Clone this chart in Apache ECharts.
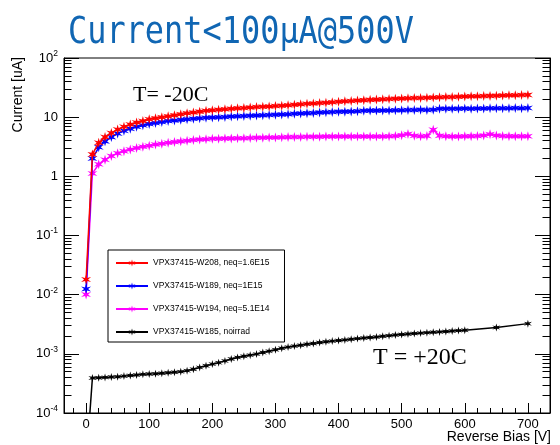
<!DOCTYPE html>
<html>
<head>
<meta charset="utf-8">
<script src="https://cdn.jsdelivr.net/npm/echarts@6/dist/echarts.min.js"></script>
<style>
  html, body { margin: 0; padding: 0; background: #fff; }
  #chart { width: 560px; height: 445px; }
</style>
</head>
<body>
<div id="chart"></div>
<script>
// Reverse bias voltage steps [V]
const biasV = [
  0, 10, 20, 30, 40, 50, 60, 70, 80, 90,
  100, 110, 120, 130, 140, 150, 160, 170, 180, 190,
  200, 210, 220, 230, 240, 250, 260, 270, 280, 290,
  300, 310, 320, 330, 340, 350, 360, 370, 380, 390,
  400, 410, 420, 430, 440, 450, 460, 470, 480, 490,
  500, 510, 520, 530, 540, 550, 560, 570, 580, 590,
  600, 610, 620, 630, 640, 650, 660, 670, 680, 690,
  700
];
const biasVW185 = [
  0, 10, 20, 30, 40, 50, 60, 70, 80, 90,
  100, 110, 120, 130, 140, 150, 160, 170, 180, 190,
  200, 210, 220, 230, 240, 250, 260, 270, 280, 290,
  300, 310, 320, 330, 340, 350, 360, 370, 380, 390,
  400, 410, 420, 430, 440, 450, 460, 470, 480, 490,
  500, 510, 520, 530, 540, 550, 560, 570, 580, 590,
  600, 650, 700
];

// Leakage current [uA]
const currentW208 = [
  0.018, 2.35, 3.7, 4.6, 5.4, 6.2, 6.9, 7.5, 8.1, 8.6,
  9.2, 9.6, 10.0, 10.4, 10.8, 11.2, 11.6, 12.0, 12.4, 12.8,
  13.1, 13.4, 13.6, 13.9, 14.1, 14.3, 14.6, 14.8, 15.0, 15.2,
  15.4, 15.6, 15.9, 16.2, 16.5, 16.8, 17.0, 17.3, 17.6, 17.9,
  18.2, 18.5, 18.8, 19.1, 19.4, 19.6, 19.8, 20.0, 20.2, 20.4,
  20.6, 20.8, 21.0, 21.1, 21.3, 21.5, 21.7, 21.9, 22.0, 22.2,
  22.3, 22.5, 22.6, 22.8, 22.9, 23.1, 23.2, 23.4, 23.5, 23.7,
  23.8
];
const currentW189 = [
  0.0125, 2.0, 3.1, 3.9, 4.6, 5.3, 5.9, 6.4, 6.9, 7.3,
  7.7, 8.0, 8.3, 8.6, 8.8, 9.0, 9.2, 9.4, 9.6, 9.8,
  9.9, 10.0, 10.1, 10.3, 10.4, 10.5, 10.6, 10.7, 10.8, 10.9,
  11.0, 11.1, 11.2, 11.4, 11.5, 11.7, 11.8, 12.0, 12.1, 12.2,
  12.3, 12.4, 12.5, 12.6, 12.8, 12.9, 12.9, 13.0, 13.0, 13.1,
  13.1, 13.2, 13.2, 13.3, 13.2, 13.3, 13.9, 13.9, 13.9, 13.9,
  14.0, 13.9, 14.0, 14.0, 14.1, 14.1, 14.1, 14.2, 14.3, 14.2,
  14.3
];
const currentW194 = [
  0.0101, 1.12, 1.6, 1.9, 2.2, 2.45, 2.65, 2.85, 3.0, 3.15,
  3.3, 3.45, 3.55, 3.7, 3.8, 3.9, 4.0, 4.1, 4.2, 4.25,
  4.3, 4.32, 4.35, 4.38, 4.4, 4.42, 4.45, 4.47, 4.5, 4.52,
  4.55, 4.57, 4.6, 4.62, 4.64, 4.65, 4.67, 4.68, 4.7, 4.7,
  4.7, 4.72, 4.72, 4.72, 4.72, 4.72, 4.7, 4.72, 4.75, 4.8,
  4.95, 5.2, 4.85, 4.75, 4.8, 6.1, 4.85, 4.75, 4.72, 4.72,
  4.75, 4.78, 4.8, 4.9, 5.15, 4.9, 4.8, 4.78, 4.75, 4.75,
  4.75
];
const currentW185 = [
  1.3e-5, 3.9e-4, 3.95e-4, 4.0e-4, 4.05e-4, 4.1e-4, 4.2e-4, 4.3e-4, 4.4e-4, 4.5e-4,
  4.55e-4, 4.6e-4, 4.7e-4, 4.8e-4, 4.9e-4, 5.0e-4, 5.2e-4, 5.5e-4, 5.9e-4, 6.3e-4,
  6.7e-4, 7.1e-4, 7.6e-4, 8.2e-4, 8.7e-4, 9.1e-4, 9.5e-4, 9.9e-4, 1.05e-3, 1.11e-3,
  1.17e-3, 1.24e-3, 1.30e-3, 1.35e-3, 1.40e-3, 1.45e-3, 1.50e-3, 1.55e-3, 1.60e-3, 1.64e-3,
  1.68e-3, 1.72e-3, 1.76e-3, 1.81e-3, 1.85e-3, 1.89e-3, 1.93e-3, 1.98e-3, 2.03e-3, 2.08e-3,
  2.12e-3, 2.16e-3, 2.20e-3, 2.24e-3, 2.28e-3, 2.31e-3, 2.35e-3, 2.39e-3, 2.43e-3, 2.47e-3,
  2.51e-3, 2.78e-3, 3.24e-3
];

const seriesNames = [
  'VPX37415-W208, neq=1.6E15',
  'VPX37415-W189, neq=1E15',
  'VPX37415-W194, neq=5.1E14',
  'VPX37415-W185, noirrad'
];
const seriesColors = ['#ff0000', '#0000ff', '#ff00ff', '#000000'];

// Axis tick labels
const xTickLabels = ['0', '100', '200', '300', '400', '500', '600', '700'];
const yDecades = [-4, -3, -2, -1, 0, 1, 2];

const FONT = '"Liberation Sans", Arial, Helvetica, sans-serif';
const STAR = 'path://M0,-10 L1.75,-3.03 L8.66,-5 L3.5,0 L8.66,5 L1.75,3.03 L0,10 L-1.75,3.03 L-8.66,5 L-3.5,0 L-8.66,-5 L-1.75,-3.03 Z';

// minor log ticks 2..9 in every decade
const yMinor = [];
yDecades.slice(0, -1).forEach(d => {
  for (let m = 2; m <= 9; m++) yMinor.push(+(m * Math.pow(10, d)).toPrecision(3));
});

function yLabel(v) {
  const e = Math.round(Math.log10(v));
  if (e === 0) return '{b|1}';
  if (e === 1) return '{b|10}';
  return '{b|10}{e|' + e + '}';
}

function logAxis(position, opts) {
  return Object.assign({
    type: 'log', logBase: 10, min: 1e-4, max: 100, splitNumber: 6,
    position: position, gridIndex: 0,
    axisLine: { show: true, onZero: false, lineStyle: { color: '#000', width: 1 } },
    splitLine: { show: false },
    axisTick: { show: true, inside: true, length: 15, lineStyle: { color: '#000', width: 1 } },
    axisLabel: { show: false }
  }, opts);
}

const chart = echarts.init(document.getElementById('chart'), null, { renderer: 'canvas' });

const pairs = [
  biasV.map((v, i) => [v, currentW208[i]]),
  biasV.map((v, i) => [v, currentW189[i]]),
  biasV.map((v, i) => [v, currentW194[i]]),
  biasVW185.map((v, i) => [v, currentW185[i]])
];

chart.setOption({
  animation: false,
  backgroundColor: '#fff',
  textStyle: { fontFamily: FONT },
  grid: { left: 64, right: 10, top: 58, bottom: 32, show: true, borderColor: '#000', borderWidth: 1, backgroundColor: 'transparent' },
  xAxis: {
    type: 'value', min: -35, max: 735, splitNumber: 8,
    axisLine: { show: true, onZero: false, lineStyle: { color: '#000', width: 1 } },
    splitLine: { show: false },
    axisTick: { show: true, inside: true, length: 10, lineStyle: { color: '#000', width: 1 } },
    minorTick: { show: true, splitNumber: 5, length: 5, lineStyle: { color: '#000', width: 1 } },
    axisLabel: {
      margin: 5, color: '#000', fontSize: 13, fontFamily: FONT,
      formatter: v => (v % 100 === 0 && xTickLabels.indexOf(String(v)) >= 0) ? String(v) : ''
    }
  },
  yAxis: [
    logAxis('left', {
      axisLabel: {
        show: true, margin: 6, color: '#000', fontFamily: FONT, formatter: yLabel,
        rich: {
          b: { fontSize: 13, lineHeight: 17, color: '#000', fontFamily: FONT },
          e: { fontSize: 8.5, lineHeight: 8, padding: [0, 0, 9, 0], color: '#000', fontFamily: FONT }
        }
      }
    }),
    logAxis('right', {}),
    logAxis('left', {
      axisLine: { show: false, onZero: false },
      axisTick: { show: true, inside: true, length: 7.5, customValues: yMinor, lineStyle: { color: '#000', width: 1 } }
    }),
    logAxis('right', {
      axisLine: { show: false, onZero: false },
      axisTick: { show: true, inside: true, length: 7.5, customValues: yMinor, lineStyle: { color: '#000', width: 1 } }
    })
  ],
  legend: {
    orient: 'vertical', left: 108, top: 250,
    padding: [7, 15, 4, 7],
    itemWidth: 32, itemHeight: 9, itemGap: 11,
    borderColor: '#000', borderWidth: 1, borderRadius: 0, backgroundColor: '#fff',
    textStyle: { fontSize: 8.5, color: '#000', lineHeight: 12, fontFamily: FONT },
    data: seriesNames
  },
  series: pairs.map((d, k) => ({
    name: seriesNames[k],
    type: 'line',
    xAxisIndex: 0, yAxisIndex: 0,
    data: d,
    symbol: STAR, symbolSize: k === 3 ? 8 : 10, showAllSymbol: true,
    color: seriesColors[k],
    itemStyle: { color: seriesColors[k] },
    lineStyle: { color: seriesColors[k], width: 1.5 },
    clip: true,
    z: 5 - k
  })),
  graphic: [
    {
      type: 'text', x: 68, y: 34, scaleX: 0.84, scaleY: 0.96,
      style: { text: 'Current<100μA@500V', font: '38px "DejaVu Sans Mono", monospace', fill: '#1066b3',
               textAlign: 'left', align: 'left', textVerticalAlign: 'middle', verticalAlign: 'middle' }
    },
    {
      type: 'text', x: 133, y: 95,
      style: { text: 'T= -20C', font: '22px "Liberation Serif", "Times New Roman", serif', fill: '#000',
               textAlign: 'left', align: 'left', textVerticalAlign: 'middle', verticalAlign: 'middle' }
    },
    {
      type: 'text', x: 373, y: 358,
      style: { text: 'T = +20C', font: '24px "Liberation Serif", "Times New Roman", serif', fill: '#000',
               textAlign: 'left', align: 'left', textVerticalAlign: 'middle', verticalAlign: 'middle' }
    },
    {
      type: 'text', x: 551, y: 437,
      style: { text: 'Reverse Bias [V]', font: '14px ' + FONT, fill: '#000',
               textAlign: 'right', align: 'right', textVerticalAlign: 'middle', verticalAlign: 'middle' }
    },
    {
      type: 'text', x: 18, y: 57, rotation: Math.PI / 2,
      style: { text: 'Current [uA]', font: '14px ' + FONT, fill: '#000',
               textAlign: 'right', align: 'right', textVerticalAlign: 'middle', verticalAlign: 'middle' }
    }
  ]
});
</script>
</body>
</html>
